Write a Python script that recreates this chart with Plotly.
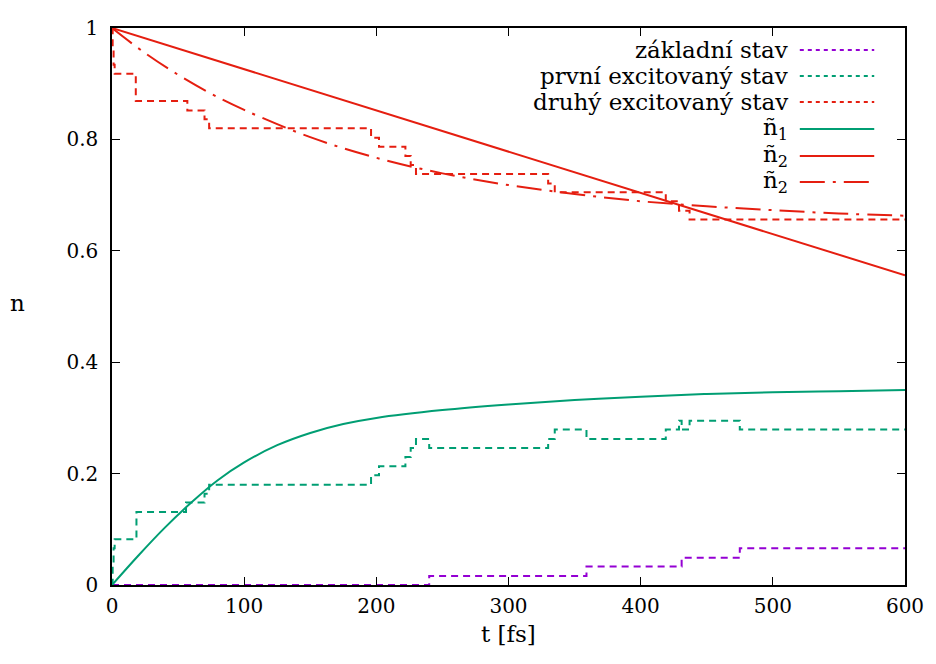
import plotly.graph_objects as go

# ---- surface-hopping state populations (step functions) ----
t_ground = [0, 240, 359, 431, 475, 600]
n_ground = [0.0, 0.016, 0.033, 0.049, 0.066, 0.066]

t_first = [0, 0.5, 1.2, 2, 18.5, 56, 70, 73.5, 196, 202, 222, 226, 230, 240,
           330, 335, 359, 419, 429, 431, 437, 475, 600]
n_first = [0.0, 0.033, 0.066, 0.082, 0.131, 0.148, 0.164, 0.180, 0.197, 0.213,
           0.230, 0.246, 0.262, 0.246, 0.262, 0.279, 0.262, 0.279, 0.295, 0.279,
           0.295, 0.279, 0.279]

t_second = [0, 0.5, 1.2, 2, 18, 57, 70, 73.5, 196, 202, 222, 226, 230, 330, 335,
            419, 429, 437, 600]
n_second = [1.0, 0.967, 0.934, 0.918, 0.869, 0.852, 0.836, 0.820, 0.803, 0.787,
            0.770, 0.754, 0.738, 0.721, 0.705, 0.689, 0.672, 0.656, 0.656]

# ---- smooth model curves ----
t_n1 = [0, 20, 40, 60, 80, 100, 125, 150, 175, 200, 250, 300, 350, 400, 450, 500, 550, 600]
n1_tilde = [0.0, 0.053, 0.103, 0.148, 0.188, 0.220, 0.251, 0.273, 0.289, 0.300,
            0.314, 0.324, 0.332, 0.338, 0.343, 0.346, 0.348, 0.350]

t_n2_lin = [0, 100, 200, 300, 400, 500, 600]
n2_tilde_lin = [1.0, 0.926, 0.852, 0.778, 0.704, 0.630, 0.556]

t_n2 = [0, 25, 50, 75, 100, 150, 200, 250, 300, 350, 400, 450, 500, 550, 600]
n2_tilde = [1.0, 0.955, 0.916, 0.882, 0.853, 0.804, 0.767, 0.739, 0.718, 0.702,
            0.689, 0.680, 0.673, 0.667, 0.663]

x_ticks = [0, 100, 200, 300, 400, 500, 600]
x_ticktext = ["0", "100", "200", "300", "400", "500", "600"]
y_ticks = [0, 0.2, 0.4, 0.6, 0.8, 1.0]
y_ticktext = ["0", "0.2", "0.4", "0.6", "0.8", "1"]

legend_labels = ["základní stav", "první excitovaný stav", "druhý excitovaný stav",
                 "ñ<sub>1</sub>", "ñ<sub>2</sub>", "ñ<sub>2</sub>"]

PURPLE = "#9400d3"
GREEN = "#009e73"
RED = "#e51e10"
FONT = "DejaVu Serif"
TICK_FS = 20
KEY_FS = 23
LABEL_FS = 23

step_dash = "7px,5px"
dashdot = "25px,8px,3px,8px"

fig = go.Figure()
fig.add_trace(go.Scatter(x=t_ground, y=n_ground, mode="lines", line_shape="hv",
                         line=dict(color=PURPLE, width=2, dash=step_dash)))
fig.add_trace(go.Scatter(x=t_first, y=n_first, mode="lines", line_shape="hv",
                         line=dict(color=GREEN, width=2, dash=step_dash)))
fig.add_trace(go.Scatter(x=t_second, y=n_second, mode="lines", line_shape="hv",
                         line=dict(color=RED, width=2, dash=step_dash)))
fig.add_trace(go.Scatter(x=t_n1, y=n1_tilde, mode="lines", line_shape="spline",
                         line=dict(color=GREEN, width=2)))
fig.add_trace(go.Scatter(x=t_n2_lin, y=n2_tilde_lin, mode="lines",
                         line=dict(color=RED, width=2)))
fig.add_trace(go.Scatter(x=t_n2, y=n2_tilde, mode="lines", line_shape="spline",
                         line=dict(color=RED, width=2, dash=dashdot)))

# ---- gnuplot-style key (text right-aligned, sample on the right) ----
L, R, T, B = 112, 911, 28, 585
W, H = R - L, B - T
def px(x):
    return (x - L) / W
def py(y):
    return (B - y) / H

row_y = [50, 76, 102, 129, 156, 182]
samples = [(PURPLE, "4px,4px"), (GREEN, "4px,4px"), (RED, "4px,4px"),
           (GREEN, "solid"), (RED, "solid"), (RED, dashdot)]
annotations = []
shapes = []
for lab, yy, (col, dsh) in zip(legend_labels, row_y, samples):
    annotations.append(dict(x=px(795), y=py(yy), xref="paper", yref="paper",
                            text=lab, showarrow=False, xanchor="right", yanchor="middle",
                            font=dict(family=FONT, size=KEY_FS, color="black")))
    shapes.append(dict(type="line", xref="paper", yref="paper",
                       x0=px(805), x1=px(880), y0=py(yy), y1=py(yy),
                       line=dict(color=col, width=2, dash=dsh)))

annotations.append(dict(x=0.5, y=py(634), xref="paper", yref="paper", text="t [fs]",
                        showarrow=False, xanchor="center", yanchor="middle",
                        font=dict(family=FONT, size=LABEL_FS, color="black")))
annotations.append(dict(x=px(17), y=py(303), xref="paper", yref="paper", text="n",
                        showarrow=False, xanchor="center", yanchor="middle",
                        font=dict(family=FONT, size=LABEL_FS, color="black")))

axis_common = dict(showgrid=False, zeroline=False, showline=True, linecolor="black",
                   linewidth=1.5, mirror="ticks", ticks="inside", ticklen=8,
                   tickcolor="black", tickwidth=1,
                   tickfont=dict(family=FONT, size=TICK_FS, color="black"))

fig.update_layout(
    width=936, height=664,
    margin=dict(l=L, r=936 - R, t=T, b=664 - B),
    paper_bgcolor="white", plot_bgcolor="white",
    showlegend=False,
    xaxis=dict(range=[0, 600], tickvals=x_ticks, ticktext=x_ticktext,
               ticklabelstandoff=2, **axis_common),
    yaxis=dict(range=[0, 1], tickvals=y_ticks, ticktext=y_ticktext,
               ticklabelstandoff=8, **axis_common),
    annotations=annotations,
    shapes=shapes,
)

fig.write_html("out.html")
